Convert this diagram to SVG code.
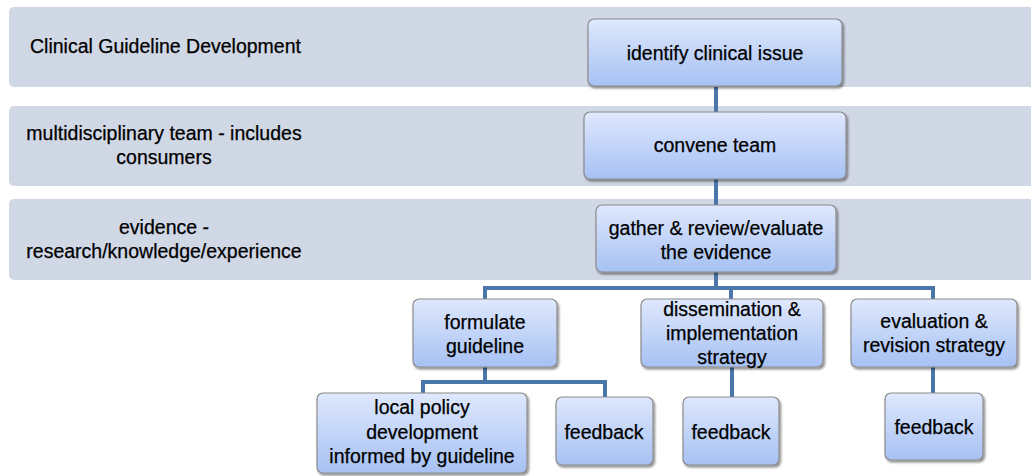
<svg xmlns="http://www.w3.org/2000/svg" width="1031" height="476" viewBox="0 0 1031 476">
<defs>
<linearGradient id="g" x1="0" y1="0" x2="0" y2="1">
<stop offset="0" stop-color="#DFE8FD"/>
<stop offset="1" stop-color="#A6C1F3"/>
</linearGradient>
<filter id="sh" x="-10%" y="-10%" width="130%" height="140%">
<feDropShadow dx="1.5" dy="2" stdDeviation="1" flood-color="#000" flood-opacity="0.45"/>
</filter>
</defs>
<style>
.band{fill:#D0D7E5}
.node{fill:url(#g);stroke:#8C8C8C;stroke-width:1.2;filter:url(#sh)}
.t{font-family:"Liberation Sans",Arial,sans-serif;font-size:19.5px;fill:#000;text-anchor:middle;stroke:#000;stroke-width:0.25}
.lt{font-family:"Liberation Sans",Arial,sans-serif;font-size:19.5px;fill:#000;stroke:#000;stroke-width:0.25}
.c{fill:none;stroke:#4A76AA;stroke-width:4}
</style>
<g id="bands">
<rect class="band" x="9" y="7" width="1030" height="80" rx="5"/>
<rect class="band" x="9" y="106" width="1030" height="80" rx="5"/>
<rect class="band" x="9" y="199" width="1030" height="81" rx="5"/>
<text class="lt" x="30" y="53">Clinical Guideline Development</text>
<text class="t" x="164" y="140">multidisciplinary team - includes</text>
<text class="t" x="164" y="164">consumers</text>
<text class="t" x="164" y="234">evidence -</text>
<text class="t" x="164" y="258">research/knowledge/experience</text>
</g>
<g id="connectors">
<path class="c" d="M716 87V112"/>
<path class="c" d="M716 179V205"/>
<path class="c" d="M716 272V288M485 299V288H933V299M731 288V299"/>
<path class="c" d="M485 367V382H423V393M485 382H605V397"/>
<path class="c" d="M732 367V397"/>
<path class="c" d="M933 367V393"/>
</g>
<g id="n1"><rect class="node" x="588" y="19" width="254" height="67" rx="6"/><text class="t" x="715" y="60">identify clinical issue</text></g>
<g id="n2"><rect class="node" x="584" y="112" width="262" height="67" rx="6"/><text class="t" x="715" y="152">convene team</text></g>
<g id="n3"><rect class="node" x="596" y="205" width="240" height="67" rx="6"/><text class="t" x="716" y="235">gather &amp; review/evaluate</text><text class="t" x="716" y="259">the evidence</text></g>
<g id="n4"><rect class="node" x="413" y="299" width="144" height="68" rx="6"/><text class="t" x="485" y="329">formulate</text><text class="t" x="485" y="353">guideline</text></g>
<g id="n5"><rect class="node" x="641" y="299" width="182" height="68" rx="6"/><text class="t" x="732" y="316">dissemination &amp;</text><text class="t" x="732" y="340">implementation</text><text class="t" x="732" y="364">strategy</text></g>
<g id="n6"><rect class="node" x="851" y="299" width="166" height="68" rx="6"/><text class="t" x="934" y="328">evaluation &amp;</text><text class="t" x="934" y="352">revision strategy</text></g>
<g id="n7"><rect class="node" x="317" y="393" width="210" height="80" rx="6"/><text class="t" x="422" y="414">local policy</text><text class="t" x="422" y="439">development</text><text class="t" x="422" y="463">informed by guideline</text></g>
<g id="n8"><rect class="node" x="556" y="397" width="97" height="68" rx="6"/><text class="t" x="604" y="439">feedback</text></g>
<g id="n9"><rect class="node" x="683" y="397" width="96" height="68" rx="6"/><text class="t" x="731" y="439">feedback</text></g>
<g id="n10"><rect class="node" x="885" y="393" width="98" height="67" rx="6"/><text class="t" x="934" y="434">feedback</text></g>
</svg>
